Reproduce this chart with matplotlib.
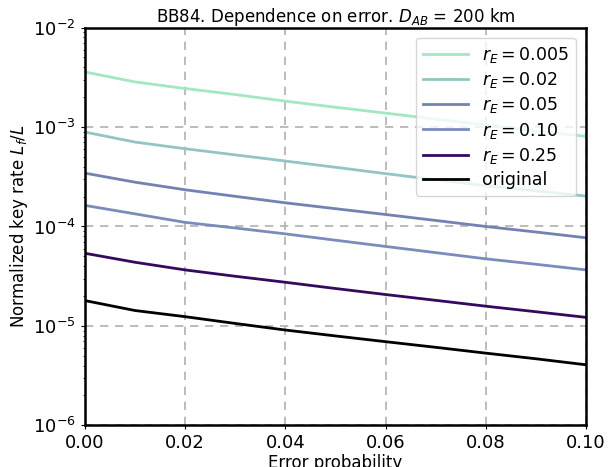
import matplotlib
matplotlib.use("Agg")
import matplotlib.pyplot as plt

error_prob = [0.00, 0.01, 0.02, 0.03, 0.04, 0.05, 0.06, 0.07, 0.08, 0.09, 0.10]

rate_r0005 = [3.58e-3, 2.84e-3, 2.44e-3, 2.12e-3, 1.82e-3, 1.58e-3, 1.38e-3, 1.20e-3, 1.05e-3, 9.1e-4, 8.05e-4]
rate_r002 = [8.9e-4, 7.06e-4, 6.05e-4, 5.25e-4, 4.55e-4, 3.94e-4, 3.40e-4, 2.95e-4, 2.57e-4, 2.28e-4, 2.02e-4]
rate_r005 = [3.44e-4, 2.79e-4, 2.34e-4, 2.01e-4, 1.73e-4, 1.51e-4, 1.32e-4, 1.15e-4, 1.0e-4, 8.8e-5, 7.7e-5]
rate_r010 = [1.63e-4, 1.34e-4, 1.10e-4, 9.66e-5, 8.43e-5, 7.28e-5, 6.3e-5, 5.46e-5, 4.73e-5, 4.17e-5, 3.66e-5]
rate_r025 = [5.38e-5, 4.37e-5, 3.66e-5, 3.16e-5, 2.75e-5, 2.38e-5, 2.07e-5, 1.81e-5, 1.58e-5, 1.39e-5, 1.22e-5]
rate_orig = [1.80e-5, 1.43e-5, 1.24e-5, 1.06e-5, 9.1e-6, 7.94e-6, 6.95e-6, 6.1e-6, 5.33e-6, 4.68e-6, 4.07e-6]

labels = [r"$r_E = 0.005$", r"$r_E = 0.02$", r"$r_E = 0.05$", r"$r_E = 0.10$", r"$r_E = 0.25$", "original"]
series = [rate_r0005, rate_r002, rate_r005, rate_r010, rate_r025, rate_orig]
colors = ["#a3e8c0", "#92c5c4", "#7282b2", "#7a8cbc", "#34095e", "#000000"]

fig = plt.figure(figsize=(6.15, 4.67), dpi=100)
ax = fig.add_axes([0.138, 0.089, 0.815, 0.852])

for ys, lab, c in zip(series, labels, colors):
    ax.plot(error_prob, ys, color=c, lw=2.0, label=lab)

ax.set_yscale("log")
ax.set_xlim(0, 0.1)
ax.set_ylim(1e-6, 1e-2)
ax.set_xticks([0.0, 0.02, 0.04, 0.06, 0.08, 0.10])
ax.set_xticklabels(["0.00", "0.02", "0.04", "0.06", "0.08", "0.10"])
ax.grid(True, which="major", ls=(0, (5, 4)), color="#b0b0b0", lw=1.2)
ax.tick_params(axis="both", which="major", labelsize=13, length=3)
ax.tick_params(axis="both", which="minor", length=1.5)
for s in ax.spines.values():
    s.set_linewidth(1.8)

ax.set_title(r"BB84. Dependence on error. $D_{AB}$ = 200 km", fontsize=12, pad=3)
ax.set_xlabel("Error probability", fontsize=12, labelpad=1)
ax.set_ylabel(r"Normalized key rate $L_f/L$", fontsize=12, labelpad=2)
ax.legend(loc="upper right", fontsize=12.5, handlelength=2.6, borderaxespad=0.6,
          labelspacing=0.3)

fig.savefig("out.png", dpi=100)
